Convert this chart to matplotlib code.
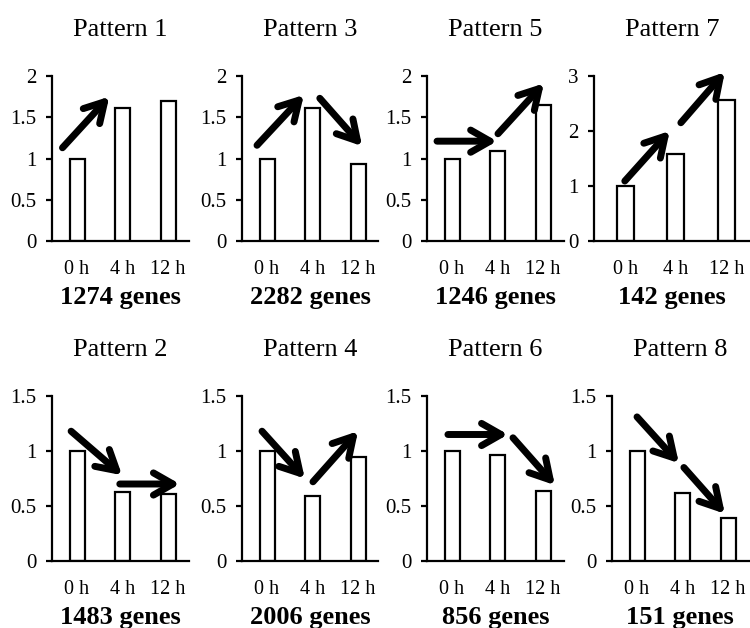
import numpy as np
import matplotlib
matplotlib.use('Agg')
import matplotlib.pyplot as plt

plt.rcParams['font.family'] = ['Liberation Serif', 'DejaVu Serif']

times = ['0 h', '4 h', '12 h']

patterns = ['Pattern 1', 'Pattern 3', 'Pattern 5', 'Pattern 7',
            'Pattern 2', 'Pattern 4', 'Pattern 6', 'Pattern 8']
gene_counts = [1274, 2282, 1246, 142, 1483, 2006, 856, 151]

p1 = [1.0, 1.61, 1.70]
p3 = [1.0, 1.61, 0.93]
p5 = [1.0, 1.09, 1.65]
p7 = [1.0, 1.59, 2.57]
p2 = [1.0, 0.63, 0.61]
p4 = [1.0, 0.59, 0.95]
p6 = [1.0, 0.96, 0.64]
p8 = [1.0, 0.62, 0.39]
values = [p1, p3, p5, p7, p2, p4, p6, p8]

ymax = [2, 2, 2, 3, 1.5, 1.5, 1.5, 1.5]
ystep = [0.5, 0.5, 0.5, 1, 0.5, 0.5, 0.5, 0.5]

# trend arrows (tail x, tail y, head x, head y) in data units
arrows = [
    [(-0.32, 1.13, 0.71, 1.75)],
    [(-0.22, 1.16, 0.81, 1.77), (1.16, 1.73, 2.09, 1.15)],
    [(-0.33, 1.21, 0.99, 1.21), (1.01, 1.30, 2.02, 1.91)],
    [(-0.01, 1.09, 0.88, 2.00), (1.10, 2.15, 1.97, 3.07)],
    [(-0.13, 1.18, 0.99, 0.78), (0.94, 0.70, 2.26, 0.70)],
    [(-0.11, 1.18, 0.83, 0.75), (1.01, 0.72, 2.00, 1.18)],
    [(-0.09, 1.15, 1.23, 1.15), (1.34, 1.12, 2.26, 0.69)],
    [(0.00, 1.31, 0.92, 0.89), (1.03, 0.85, 1.93, 0.43)],
]

W, H = 750, 628
lefts = [52, 242, 427, 594, 52, 242, 427, 612]
widths = [136.5, 136.5, 136.5, 156, 136.5, 136.5, 136.5, 136.5]
bottoms = [241, 241, 241, 241, 561, 561, 561, 561]
ax_h = 165

fig = plt.figure(figsize=(W / 100, H / 100), dpi=100)

for i in range(8):
    ax = fig.add_axes([lefts[i] / W, 1 - bottoms[i] / H, widths[i] / W, ax_h / H])
    x = np.arange(len(times))
    ax.bar(x, values[i], width=0.33, color='white', edgecolor='black', linewidth=1.6)
    unit = widths[i] / 45.5 if i != 3 else widths[i] / 50.5
    left = -0.55 if i != 3 else -0.62
    ax.set_xlim(left, left + unit)
    ax.set_ylim(0, ymax[i])
    ticks = np.arange(0, ymax[i] + 0.01, ystep[i])
    ax.set_yticks(ticks)
    ax.set_yticklabels([f'{v:g}' for v in ticks])
    ax.set_xticks(x)
    ax.set_xticklabels(times)
    for s in ['top', 'right']:
        ax.spines[s].set_visible(False)
    for s in ['left', 'bottom']:
        ax.spines[s].set_linewidth(1.6)
    ax.tick_params(axis='y', direction='out', length=4, width=1.6, pad=7, labelsize=15)
    ax.tick_params(axis='x', length=0, pad=14, labelsize=14.5)
    ax.set_title(patterns[i], fontsize=19, pad=29)
    ax.text(0.5, -0.345, f'{gene_counts[i]} genes', transform=ax.transAxes,
            ha='center', va='center', fontsize=19, fontweight='bold')
    for (x0, y0, x1, y1) in arrows[i]:
        ax.annotate('', xy=(x1, y1), xytext=(x0, y0),
                    arrowprops=dict(arrowstyle='->,head_length=1.4,head_width=0.8',
                                    lw=5, color='black', shrinkA=0, shrinkB=0),
                    annotation_clip=False)

fig.savefig('out.png', dpi=100)
